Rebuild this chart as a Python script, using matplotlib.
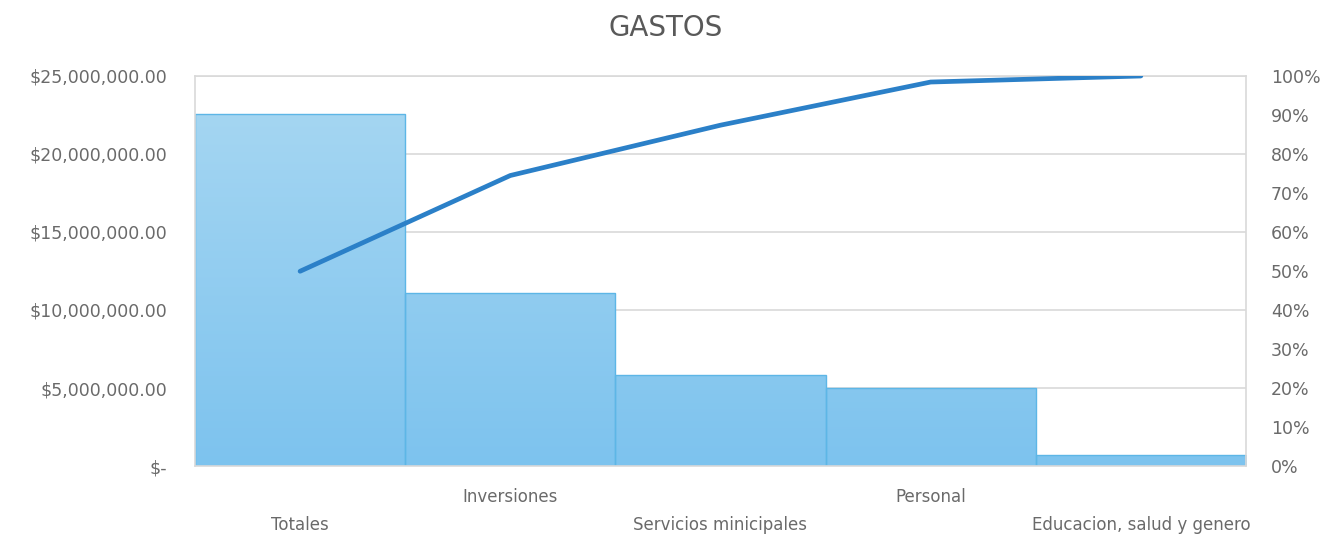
import matplotlib
matplotlib.use("Agg")
import matplotlib.pyplot as plt
import numpy as np
from matplotlib.colors import LinearSegmentedColormap
from matplotlib.ticker import FuncFormatter, PercentFormatter

#### Data
categorias = ["Totales", "Inversiones", "Servicios minicipales", "Personal",
              "Educacion, salud y genero"]
gastos = [22560000, 11090000, 5830000, 5000000, 700000]

acumulado = np.cumsum(gastos) / np.sum(gastos)   # pareto line

#### Styles
GRIS_TXT = "#595959"
GRIS_TICK = "#6A6A6A"
GRIS_GRID = "#D9D9D9"
AZUL_LINEA = "#2B80C8"
BORDE_BARRA = "#5DB6E6"
grad = LinearSegmentedColormap.from_list("barra", ["#7DC3EE", "#A5D6F2"])

plt.rcParams["font.family"] = ["DejaVu Sans"]

fig = plt.figure(figsize=(13.31, 5.37), dpi=100)
ax = fig.add_axes([0.1465, 0.1322, 0.7896, 0.7263])

YMAX = 25000000
x = np.arange(len(categorias))
barras = ax.bar(x, gastos, width=1.0, color="#8AC9EE",
                edgecolor=BORDE_BARRA, linewidth=1, zorder=2)

# gradient fill (shared over the plot height), clipped to each bar
g = np.linspace(0, 1, 256).reshape(-1, 1)
for b in barras:
   x0 = b.get_x()
   x1 = x0 + b.get_width()
   im = ax.imshow(g, extent=[x0, x1, 0, YMAX * 0.92], origin="lower",
                  aspect="auto", cmap=grad, zorder=2.1)
   im.set_clip_path(b)
for b in barras:
   b.set_facecolor("none")
   b.set_zorder(2.2)

ax.set_xlim(-0.5, len(categorias) - 0.5)
ax.set_ylim(0, YMAX)
ax.set_yticks(np.arange(0, YMAX + 1, 5000000))

def fmt_dinero(v, pos):
   if v == 0:
      return "$-"
   return "${:,.2f}".format(v)
ax.yaxis.set_major_formatter(FuncFormatter(fmt_dinero))

ax.grid(axis="y", color=GRIS_GRID, linewidth=1.2, zorder=0)
ax.set_axisbelow(True)
for s in ax.spines.values():
   s.set_color(GRIS_GRID)
   s.set_linewidth(1.2)

ax.tick_params(axis="y", length=0, pad=20, labelsize=12.5, labelcolor=GRIS_TICK)
ax.set_xticks(x)
ax.set_xticklabels(categorias)
ax.tick_params(axis="x", length=0, labelsize=12, labelcolor=GRIS_TICK)
for i, t in enumerate(ax.xaxis.get_major_ticks()):
   t.set_pad(36 if i % 2 == 0 else 16)

#### Pareto line
ax2 = ax.twinx()
ax2.plot(x, acumulado, color=AZUL_LINEA, linewidth=3.4,
         solid_capstyle="round", zorder=5)
ax2.set_ylim(0, 1)
ax2.set_yticks(np.arange(0, 1.01, 0.1))
ax2.yaxis.set_major_formatter(PercentFormatter(1.0, decimals=0))
ax2.tick_params(axis="y", length=0, pad=18, labelsize=12.5, labelcolor=GRIS_TICK)
for s in ax2.spines.values():
   s.set_visible(False)

fig.text(0.5, 0.948, "GASTOS", ha="center", va="center",
         fontsize=20, color=GRIS_TXT)

fig.savefig("out.png", dpi=100, facecolor="white")
